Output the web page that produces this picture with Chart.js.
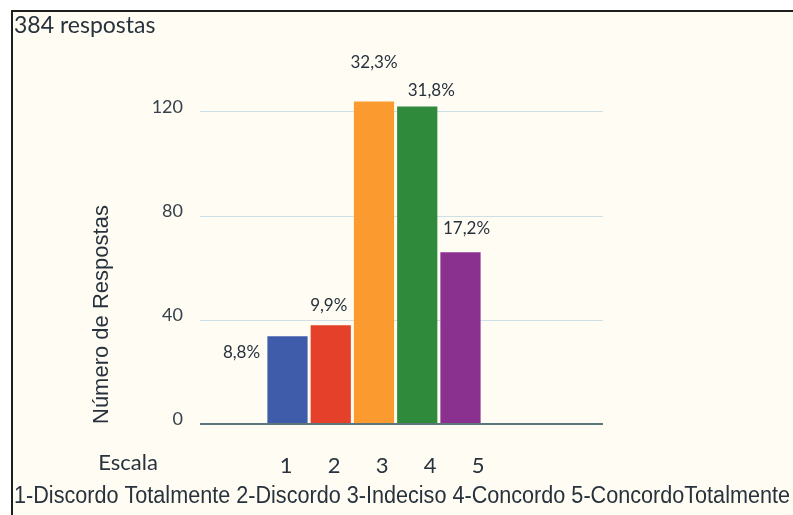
<!DOCTYPE html>
<html>
<head>
<meta charset="utf-8">
<title>Escala de respostas</title>
<script src="https://cdn.jsdelivr.net/npm/chart.js@4"></script>
<style>
  html, body { margin: 0; background: #fff; overflow: hidden; }
  #box {
    position: absolute; left: 11px; top: 10px;
    width: 782px; height: 505px;
    border-left: 2px solid #1e1e1e; border-top: 2px solid #1e1e1e;
    background: #fffdf3;
  }
  #box canvas { position: absolute; left: 0; top: 0; }
</style>
</head>
<body>
<div id="box"><canvas id="escalaChart" width="780" height="503"></canvas></div>
<script>
// dados
const totalRespostas = 384;
const escala = [1, 2, 3, 4, 5];
const percentuais = [8.8, 9.9, 32.3, 31.8, 17.2];
const coresBarras = ['#3f5cab', '#e5402a', '#fb9b2f', '#2f8a3c', '#8a3190'];
const yTicks = [0, 40, 80, 120];
const legenda = '1-Discordo Totalmente 2-Discordo 3-Indeciso 4-Concordo 5-ConcordoTotalmente';

// deslocamento dos rótulos em relação ao topo de cada barra
const deslocRotulos = [[-46, 16], [-2, -20], [0, -39], [14, -16], [6, -24]];

const respostas = percentuais.map(p => p * totalRespostas / 100);
const fmtPct = p => p.toFixed(1).replace('.', ',') + '%';

const corTexto = '#27323d';

const textos = {
  id: 'textos',
  afterDatasetsDraw(chart) {
    const ctx = chart.ctx;
    const meta = chart.getDatasetMeta(0);
    ctx.save();
    ctx.fillStyle = corTexto;
    ctx.textBaseline = 'middle';

    // percentuais sobre as barras
    ctx.font = '17px Lato';
    ctx.textAlign = 'center';
    meta.data.forEach((bar, i) => {
      const [dx, dy] = deslocRotulos[i];
      ctx.fillText(fmtPct(percentuais[i]), bar.x + dx, bar.y + dy);
    });

    // cabeçalho
    ctx.textAlign = 'left';
    ctx.font = '23px Lato';
    ctx.fillText(totalRespostas + ' respostas', 1, 14);

    // nome do eixo x, à esquerda dos números
    ctx.font = '22px Lato';
    ctx.textAlign = 'center';
    ctx.fillText('Escala', 115, 451);

    // legenda da escala
    ctx.textAlign = 'left';
    ctx.font = '23px "Liberation Sans"';
    ctx.fillText(legenda, 1, 485, 776);
    ctx.restore();
  }
};

new Chart(document.getElementById('escalaChart').getContext('2d'), {
  type: 'bar',
  data: {
    datasets: [{
      data: respostas.map((v, i) => ({ x: escala[i], y: v })),
      backgroundColor: coresBarras,
      borderWidth: 0,
      barPercentage: 0.93,
      categoryPercentage: 1,
      xAxisID: 'x',
      yAxisID: 'y'
    }]
  },
  options: {
    responsive: false,
    animation: false,
    layout: { padding: { left: 76, right: 190, top: 74, bottom: 0 } },
    plugins: {
      legend: { display: false },
      tooltip: { enabled: false }
    },
    scales: {
      x: {
        type: 'linear',
        display: false,
        offset: false,
        min: -1.023,
        max: 8.295
      },
      escala: {
        type: 'linear',
        position: 'bottom',
        offset: false,
        min: -0.792,
        max: 7.604,
        grid: { display: false, drawTicks: false },
        border: { display: false },
        afterBuildTicks: s => { s.ticks = escala.map(v => ({ value: v })); },
        afterFit: s => { s.height = 91; },
        ticks: {
          padding: 29,
          maxRotation: 0,
          color: corTexto,
          font: { family: 'Lato', size: 22 }
        }
      },
      y: {
        min: 0,
        max: 130,
        afterBuildTicks: s => { s.ticks = yTicks.map(v => ({ value: v })); },
        afterFit: s => { s.width = 111; },
        grid: {
          drawTicks: false,
          color: c => c.tick && c.tick.value === 0 ? '#5c767c' : '#cfdfe6',
          lineWidth: c => c.tick && c.tick.value === 0 ? 2 : 1
        },
        border: { display: false },
        ticks: {
          padding: 17,
          labelOffset: -5,
          color: '#36414b',
          font: { family: 'Lato', size: 18 }
        },
        title: {
          display: true,
          text: 'Número de Respostas',
          align: 'start',
          color: corTexto,
          padding: { top: 0, bottom: 0 },
          font: { family: 'Liberation Sans', size: 22 }
        }
      }
    }
  },
  plugins: [textos]
});
</script>
</body>
</html>
